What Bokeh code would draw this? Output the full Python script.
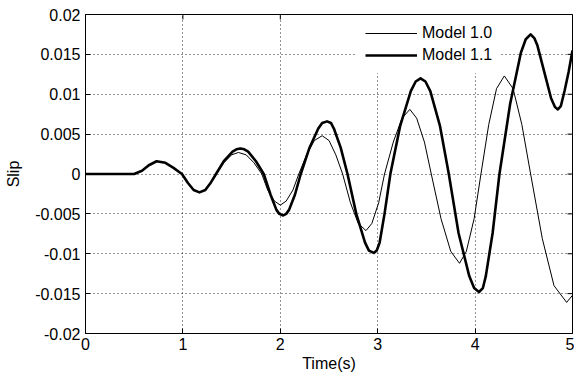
import math
from bokeh.plotting import figure
from bokeh.models import Range1d, FixedTicker, Legend, LegendItem
from bokeh.embed import file_html
from bokeh.resources import INLINE

# ---- data ----
t_m10 = [0.0, 0.5, 0.58, 0.65, 0.73, 0.82, 0.90, 0.99, 1.05, 1.11, 1.17, 1.23, 1.28, 1.34,
         1.42, 1.50, 1.57, 1.65, 1.73, 1.81, 1.87, 1.94, 2.00, 2.06, 2.13, 2.19, 2.27, 2.35,
         2.43, 2.50, 2.57, 2.64, 2.72, 2.80, 2.88, 2.94, 3.01, 3.07, 3.16, 3.25, 3.33, 3.40,
         3.48, 3.55, 3.65, 3.75, 3.84, 3.91, 3.99, 4.06, 4.14, 4.22, 4.30, 4.39, 4.48, 4.57,
         4.69, 4.81, 4.94, 5.0]
slip_m10 = [0, 0, 0.0004, 0.0011, 0.0016, 0.0014, 0.0008, 0, -0.0011, -0.0020, -0.0023, -0.0020,
            -0.0012, 0, 0.0014, 0.0024, 0.0027, 0.0024, 0.0014, 0, -0.0020, -0.0034, -0.0039,
            -0.0034, -0.0020, 0, 0.0024, 0.0042, 0.0048, 0.0042, 0.0024, 0, -0.0036, -0.0062,
            -0.0071, -0.0062, -0.0036, 0, 0.0040, 0.0070, 0.0081, 0.0070, 0.0040, 0, -0.0056,
            -0.0097, -0.0112, -0.0097, -0.0056, 0, 0.0062, 0.0107, 0.0123, 0.0107, 0.0062, 0,
            -0.0081, -0.0140, -0.0161, -0.0152]

t_m11 = [0.0, 0.5, 0.58, 0.65, 0.73, 0.82, 0.90, 0.99, 1.05, 1.11, 1.17, 1.23, 1.28, 1.34,
         1.42, 1.51, 1.55, 1.59, 1.63, 1.67, 1.75, 1.83, 1.90, 1.96, 1.99, 2.03, 2.06, 2.09,
         2.15, 2.21, 2.30, 2.39, 2.43, 2.48, 2.52, 2.55, 2.62, 2.69, 2.78, 2.87, 2.91, 2.96,
         2.99, 3.02, 3.07, 3.13, 3.23, 3.34, 3.39, 3.44, 3.49, 3.54, 3.64, 3.73, 3.83, 3.94,
         3.99, 4.04, 4.08, 4.11, 4.18, 4.25, 4.36, 4.47, 4.52, 4.57, 4.61, 4.64, 4.71, 4.78,
         4.82, 4.85, 4.88, 4.92, 4.96, 5.0]
slip_m11 = [0, 0, 0.0004, 0.0011, 0.0016, 0.0014, 0.0008, 0, -0.0011, -0.0020, -0.0023, -0.0020,
            -0.0012, 0, 0.0016, 0.0028, 0.0031, 0.0032, 0.0031, 0.0028, 0.0016, 0, -0.0026,
            -0.0045, -0.0050, -0.0052, -0.0050, -0.0045, -0.0026, 0, 0.0033, 0.0057, 0.0064,
            0.0066, 0.0064, 0.0057, 0.0033, 0, -0.0050, -0.0086, -0.0096, -0.0099, -0.0096,
            -0.0086, -0.0050, 0, 0.0060, 0.0104, 0.0116, 0.0120, 0.0116, 0.0104, 0.0060, 0,
            -0.0074, -0.0128, -0.0143, -0.0148, -0.0143, -0.0128, -0.0074, 0, 0.0088, 0.0152,
            0.0169, 0.0175, 0.0170, 0.0161, 0.0128, 0.0095, 0.0084, 0.0081, 0.0085, 0.0105,
            0.0128, 0.0155]

series_names = ["Model 1.0", "Model 1.1"]
x_ticks = [0, 1, 2, 3, 4, 5]
y_ticks = [-0.02, -0.015, -0.01, -0.005, 0, 0.005, 0.01, 0.015, 0.02]
y_tick_labels = ["-0.02", "-0.015", "-0.01", "-0.005", "0", "0.005", "0.01", "0.015", "0.02"]
x_min, x_max = 0, 5
y_min, y_max = -0.02, 0.02

FONT = "Liberation Sans"
FS = "16px"

p = figure(width=574, height=376, output_backend="svg", toolbar_location=None,
           x_range=Range1d(x_min, x_max), y_range=Range1d(y_min, y_max),
           min_border_left=85, min_border_right=2, min_border_top=14, min_border_bottom=43)
p.background_fill_color = "white"
p.border_fill_color = "white"
p.outline_line_color = "black"
p.outline_line_width = 1

# grid
for g in (p.xgrid[0], p.ygrid[0]):
    g.grid_line_color = "black"
    g.grid_line_alpha = 0.85
    g.grid_line_dash = "1 3"
    g.grid_line_width = 1
p.xgrid[0].ticker = FixedTicker(ticks=x_ticks)
p.ygrid[0].ticker = FixedTicker(ticks=y_ticks)

r_thick = p.line(t_m11, slip_m11, line_color="black", line_width=2.6, line_join="round")
r_thin = p.line(t_m10, slip_m10, line_color="black", line_width=1, line_join="round")

# inward tick marks on the top and right edges of the box (clipped to the frame)
p.scatter(x_ticks, [y_max] * len(x_ticks), marker="dash", angle=math.pi / 2, size=10,
          line_color="black", line_width=1)
p.scatter([x_max] * len(y_ticks), y_ticks, marker="dash", size=10,
          line_color="black", line_width=1)

# axes
for ax in (p.xaxis[0], p.yaxis[0]):
    ax.major_tick_in = 5
    ax.major_tick_out = 0
    ax.minor_tick_line_color = None
    ax.axis_line_color = "black"
    ax.major_tick_line_color = "black"
    ax.major_label_text_font = FONT
    ax.major_label_text_font_size = FS
    ax.major_label_text_color = "black"
    ax.axis_label_text_font = FONT
    ax.axis_label_text_font_size = FS
    ax.axis_label_text_font_style = "normal"
    ax.axis_label_text_color = "black"

p.xaxis[0].ticker = FixedTicker(ticks=x_ticks)
p.xaxis[0].axis_label = "Time(s)"
p.xaxis[0].major_label_standoff = 4
p.xaxis[0].axis_label_standoff = 2

p.yaxis[0].ticker = FixedTicker(ticks=y_ticks)
p.yaxis[0].major_label_overrides = {v: s for v, s in zip(y_ticks, y_tick_labels)}
p.yaxis[0].axis_label = "Slip"
p.yaxis[0].major_label_standoff = 5
p.yaxis[0].axis_label_standoff = 10

legend = Legend(items=[LegendItem(label=series_names[0], renderers=[r_thin]),
                       LegendItem(label=series_names[1], renderers=[r_thick])],
                location=(272, 260))
legend.glyph_width = 52
legend.glyph_height = 20
legend.label_height = 20
legend.spacing = 2
legend.padding = 8
legend.margin = 0
legend.label_standoff = 5
legend.label_text_font = FONT
legend.label_text_font_size = FS
legend.label_text_color = "black"
legend.background_fill_color = "white"
legend.background_fill_alpha = 1
legend.border_line_alpha = 0
p.add_layout(legend)

open("out.html", "w").write(file_html(p, INLINE))
